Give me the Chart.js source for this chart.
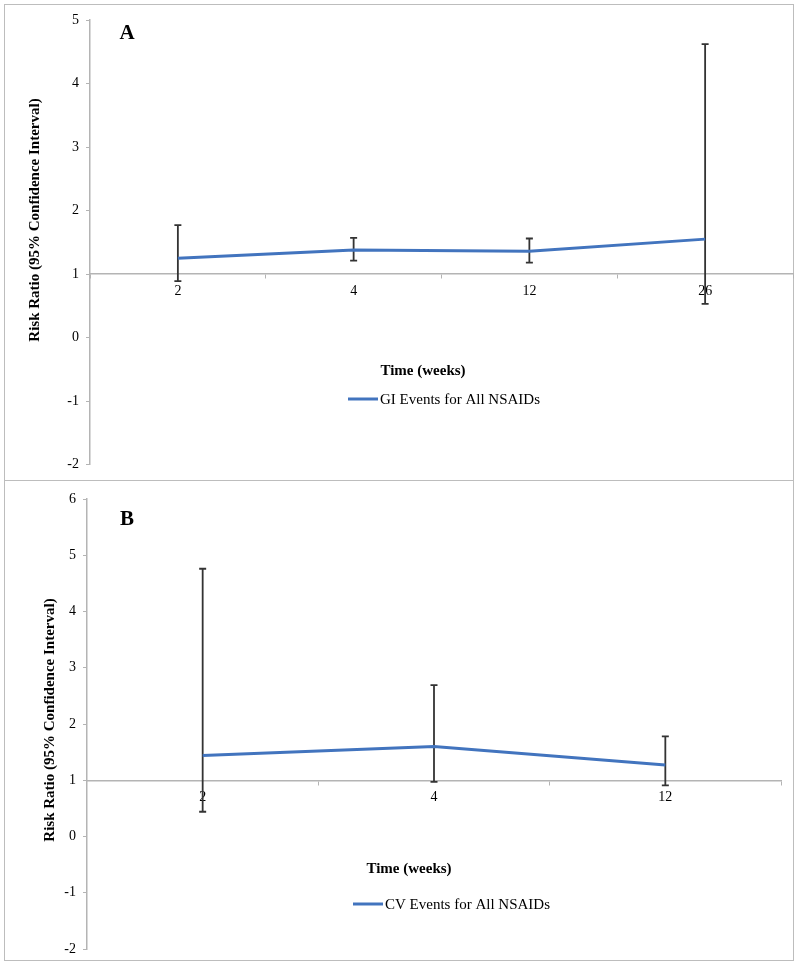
<!DOCTYPE html>
<html>
<head>
<meta charset="utf-8">
<script src="https://cdn.jsdelivr.net/npm/chart.js@4/dist/chart.umd.min.js"></script>
<style>
  body { margin: 0; background: #fff; }
  .frame { position: absolute; border: 1px solid #bdbdbd; box-sizing: border-box; }
  canvas { position: absolute; left: 0; }
</style>
</head>
<body>
<div class="frame" style="left:4px; top:4px; width:790px; height:477px;"></div>
<div class="frame" style="left:4px; top:480px; width:790px; height:481px;"></div>
<canvas id="gi" width="800" height="480" style="top:0"></canvas>
<canvas id="cv" width="800" height="485" style="top:480px"></canvas>
<script>
const weeksA = ['2', '4', '12', '26'];
const riskA = [1.25, 1.38, 1.36, 1.55];
const lowA = [0.89, 1.21, 1.18, 0.53];
const highA = [1.77, 1.57, 1.56, 4.62];

const weeksB = ['2', '4', '12'];
const riskB = [1.44, 1.60, 1.27];
const lowB = [0.44, 0.97, 0.91];
const highB = [4.76, 2.69, 1.78];

const serif = "'Liberation Serif', 'Times New Roman', serif";
const blue = '#4274be';
const axisGrey = '#b4b4b4';

// whiskers + the extra texts (panel letter, axis titles, legend)
const extras = {
  id: 'extras',
  beforeDatasetsDraw(chart, args, opts) {
    const ctx = chart.ctx;
    const x = chart.scales.x, y = chart.scales.y;
    ctx.save();
    ctx.strokeStyle = '#333';
    ctx.lineWidth = 1.8;
    opts.low.forEach((lo, i) => {
      const px = x.getPixelForValue(i);
      const y1 = y.getPixelForValue(lo);
      const y2 = y.getPixelForValue(opts.high[i]);
      ctx.beginPath();
      ctx.moveTo(px, y1); ctx.lineTo(px, y2);
      ctx.moveTo(px - 3.5, y1); ctx.lineTo(px + 3.5, y1);
      ctx.moveTo(px - 3.5, y2); ctx.lineTo(px + 3.5, y2);
      ctx.stroke();
    });
    ctx.restore();
  },
  afterDraw(chart, args, opts) {
    const ctx = chart.ctx;
    ctx.save();
    ctx.fillStyle = '#000';
    ctx.textBaseline = 'middle';
    ctx.textAlign = 'center';
    ctx.font = 'bold 21px ' + serif;
    ctx.fillText(opts.letter, opts.letterPos[0], opts.letterPos[1]);

    ctx.font = 'bold 15px ' + serif;
    ctx.fillText('Time (weeks)', opts.xTitle[0], opts.xTitle[1]);

    ctx.save();
    ctx.translate(opts.yTitle[0], opts.yTitle[1]);
    ctx.rotate(-Math.PI / 2);
    ctx.fillText('Risk Ratio (95% Confidence Interval)', 0, 0);
    ctx.restore();

    const [lx, ly] = opts.legend;
    ctx.strokeStyle = blue;
    ctx.lineWidth = 3;
    ctx.beginPath();
    ctx.moveTo(lx, ly); ctx.lineTo(lx + 30, ly);
    ctx.stroke();
    ctx.font = '15px ' + serif;
    ctx.textAlign = 'left';
    ctx.fillText(chart.data.datasets[0].label, lx + 32, ly + 1);
    ctx.restore();
  }
};

function makeChart(id, labels, values, low, high, yMax, yWidth, padding, text) {
  return new Chart(document.getElementById(id), {
    type: 'line',
    data: {
      labels: labels,
      datasets: [{
        label: text.name,
        data: values,
        borderColor: blue,
        borderWidth: 3,
        pointRadius: 0,
        tension: 0
      }]
    },
    options: {
      responsive: false,
      animation: false,
      layout: { padding: padding },
      plugins: {
        legend: { display: false },
        tooltip: { enabled: false },
        extras: Object.assign({ low: low, high: high }, text)
      },
      scales: {
        x: {
          position: { y: 1 },
          offset: true,
          border: { color: axisGrey, width: 1.5 },
          grid: { offset: true, drawOnChartArea: false, color: axisGrey, tickLength: 4 },
          ticks: { color: '#000', padding: 5, font: { family: serif, size: 14 } }
        },
        y: {
          min: -2,
          max: yMax,
          afterFit(scale) { scale.width = yWidth; },
          border: { color: axisGrey, width: 1.5 },
          grid: { drawOnChartArea: false, color: axisGrey, tickLength: 4 },
          ticks: { stepSize: 1, color: '#000', padding: 7, font: { family: serif, size: 14 } }
        }
      }
    },
    plugins: [extras]
  });
}

makeChart('gi', weeksA, riskA, lowA, highA, 5, 90,
  { left: 0, right: 7, top: 20, bottom: 10 },
  { name: 'GI Events for All NSAIDs', letter: 'A', letterPos: [127, 34],
    xTitle: [423, 371], yTitle: [35, 220], legend: [348, 399] });

makeChart('cv', weeksB, riskB, lowB, highB, 6, 87,
  { left: 0, right: 19, top: 19, bottom: 16 },
  { name: 'CV Events for All NSAIDs', letter: 'B', letterPos: [127, 40],
    xTitle: [409, 389], yTitle: [50, 240], legend: [353, 424] });
</script>
</body>
</html>
